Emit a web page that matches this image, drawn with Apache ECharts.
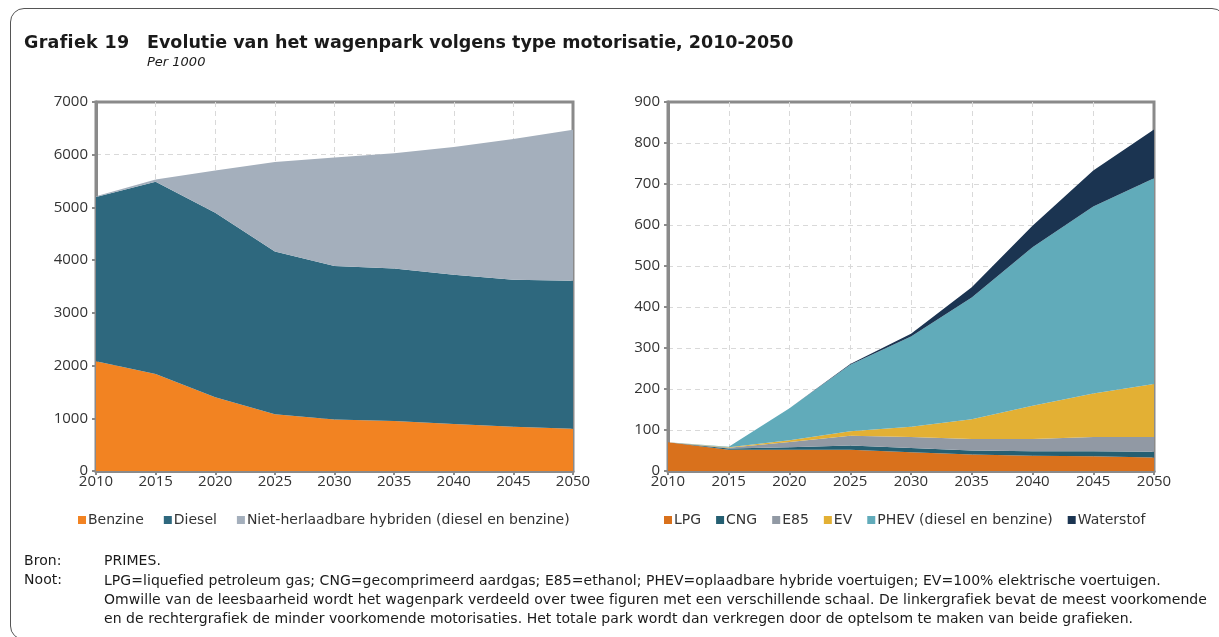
<!DOCTYPE html>
<html>
<head>
<meta charset="utf-8">
<script src="https://cdn.jsdelivr.net/npm/echarts@6/dist/echarts.min.js"></script>
<style>
html,body{margin:0;padding:0;background:#fff;}
#wrap{position:relative;width:1219px;height:637px;overflow:hidden;font-family:"DejaVu Sans",sans-serif;color:#1a1a1a;}
#frame{position:absolute;left:10px;top:8px;width:1216px;height:632px;border:1px solid #555;border-radius:14px;box-sizing:border-box;}
#chart{position:absolute;left:0;top:0;width:1219px;height:637px;}
.t{position:absolute;white-space:nowrap;}
.n{font-size:14px;letter-spacing:0.05px;}
</style>
</head>
<body>
<div id="wrap">
	<div id="frame"></div>
	<div id="chart"></div>
	<div class="t" style="left:24px;top:32px;font-size:17.5px;font-weight:bold;letter-spacing:0.3px;">Grafiek 19</div>
	<div class="t" style="left:147px;top:32px;font-size:17.5px;font-weight:bold;">Evolutie van het wagenpark volgens type motorisatie, 2010-2050</div>
	<div class="t" style="left:147px;top:54px;font-size:13px;font-style:italic;">Per 1000</div>
	<div class="t n" style="left:24px;top:552px;">Bron:</div>
	<div class="t n" style="left:104px;top:552px;">PRIMES.</div>
	<div class="t n" style="left:24px;top:571px;">Noot:</div>
	<div class="t n" style="left:104px;top:571px;line-height:19px;">LPG=liquefied petroleum gas; CNG=gecomprimeerd aardgas; E85=ethanol; PHEV=oplaadbare hybride voertuigen; EV=100% elektrische voertuigen.<br>Omwille van de leesbaarheid wordt het wagenpark verdeeld over twee figuren met een verschillende schaal. De linkergrafiek bevat de meest voorkomende<br>en de rechtergrafiek de minder voorkomende motorisaties. Het totale park wordt dan verkregen door de optelsom te maken van beide grafieken.</div>
</div>
<script>
var jaren = ['2010','2015','2020','2025','2030','2035','2040','2045','2050'];

// linkergrafiek
var benzine = [2080, 1840, 1400, 1075, 975, 950, 890, 840, 800];
var diesel = [3120, 3645, 3500, 3090, 2915, 2890, 2835, 2790, 2810];
var hybriden = [10, 45, 800, 1695, 2055, 2190, 2420, 2670, 2865];

// rechtergrafiek
var lpg = [70, 52, 52, 52, 46, 40, 37, 36, 33];
var cng = [0, 3, 6, 10, 10, 10, 11, 12, 14];
var e85 = [0, 2, 13, 24, 27, 28, 30, 35, 36];
var ev = [0, 1, 4, 11, 25, 48, 81, 106, 129];
var phev = [0, 1, 78, 162, 220, 297, 387, 456, 502];
var waterstof = [0, 0, 0, 2, 7, 25, 52, 88, 119];

var labelsize = 15, legsize = 14,
	axcolor = '#8a8a8a', gridcolor = '#d9d9d9', txtcolor = '#333';

function xas(idx){
	return {
		type:'category', gridIndex:idx, data:jaren, boundaryGap:false,
		axisLine:{lineStyle:{color:axcolor,width:3}},
		axisTick:{show:true,length:4,lineStyle:{color:axcolor,width:2}},
		axisLabel:{color:txtcolor,fontSize:labelsize,margin:3,fontFamily:'Open Sans',showMaxLabel:true,showMinLabel:true},
		splitLine:{show:true,showMinLine:false,showMaxLine:false,lineStyle:{color:gridcolor,type:[5,4],width:1}}
	};
}
function yas(idx, max, step){
	return {
		type:'value', gridIndex:idx, min:0, max:max, interval:step,
		axisLine:{show:true,lineStyle:{color:axcolor,width:3}},
		axisTick:{show:true,length:4,lineStyle:{color:axcolor,width:2}},
		axisLabel:{color:txtcolor,fontSize:labelsize,margin:8,fontFamily:'Open Sans',formatter:function(v){return String(v);}},
		splitLine:{show:true,showMinLine:false,showMaxLine:false,lineStyle:{color:gridcolor,type:[5,4],width:1}}
	};
}
function laag(naam, data, kleur, idx, stapel){
	return {
		name:naam, type:'line', xAxisIndex:idx, yAxisIndex:idx, stack:stapel,
		data:data, symbol:'none', smooth:false,
		lineStyle:{width:0}, areaStyle:{color:kleur,opacity:1}, itemStyle:{color:kleur},
		emphasis:{disabled:true}
	};
}

var myChart = echarts.init(document.getElementById('chart'));
var option = {
	animation:false,
	grid:[
		{left:96, top:102, width:477, height:369, show:true, borderColor:axcolor, borderWidth:3, backgroundColor:'transparent'},
		{left:668, top:102, width:486, height:369, show:true, borderColor:axcolor, borderWidth:3, backgroundColor:'transparent'}
	],
	legend:[
		{
			data:['Benzine','Diesel','Niet-herlaadbare hybriden (diesel en benzine)'],
			left:73, top:508, icon:'rect', itemWidth:8, itemHeight:8, itemGap:20,
			textStyle:{fontSize:legsize,color:txtcolor,fontFamily:'DejaVu Sans',padding:[0,0,0,-3]}
		},
		{
			data:['LPG','CNG','E85','EV','PHEV (diesel en benzine)','Waterstof'],
			left:659, top:508, icon:'rect', itemWidth:8, itemHeight:8, itemGap:15,
			textStyle:{fontSize:legsize,color:txtcolor,fontFamily:'DejaVu Sans',padding:[0,0,0,-3]}
		}
	],
	xAxis:[xas(0), xas(1)],
	yAxis:[yas(0, 7000, 1000), yas(1, 900, 100)],
	series:[
		laag('Benzine', benzine, '#F28322', 0, 'l'),
		laag('Diesel', diesel, '#2E687E', 0, 'l'),
		laag('Niet-herlaadbare hybriden (diesel en benzine)', hybriden, '#A4AFBC', 0, 'l'),
		laag('LPG', lpg, '#D9711C', 1, 'r'),
		laag('CNG', cng, '#255F72', 1, 'r'),
		laag('E85', e85, '#9199A4', 1, 'r'),
		laag('EV', ev, '#E3B034', 1, 'r'),
		laag('PHEV (diesel en benzine)', phev, '#61ABBA', 1, 'r'),
		laag('Waterstof', waterstof, '#1B3451', 1, 'r')
	]
};
myChart.setOption(option);
</script>
</body>
</html>
